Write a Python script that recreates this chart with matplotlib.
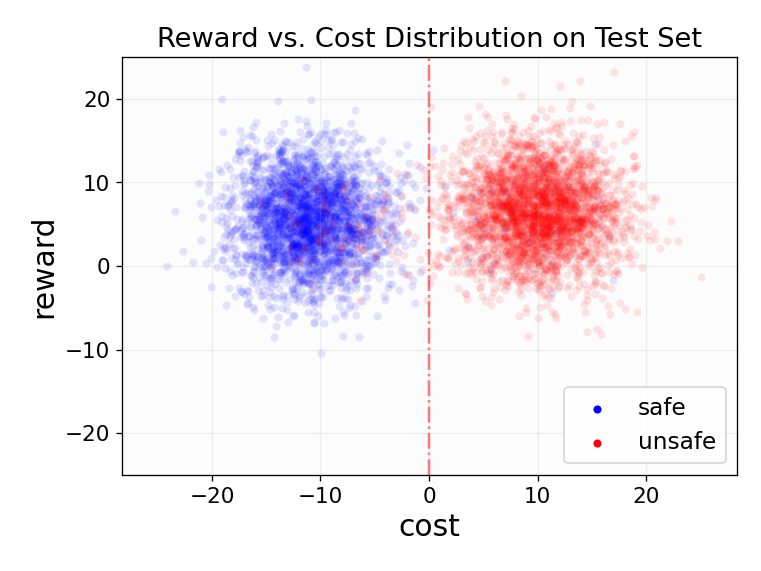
import numpy as np
import matplotlib.pyplot as plt

# cluster summaries (centre, spread, size)
groups = ['safe', 'unsafe']
colors = ['blue', 'red']
cost_mean = [-11.0, 10.0]
cost_std = [3.6, 4.0]
reward_mean = [5.5, 6.5]
reward_std = [4.5, 4.3]
counts = [2700, 2900]

# small stray groups: points of one label sitting in the other's cloud
stray_cost = [9.0, -7.0]
stray_reward = [6.0, 4.0]
stray_std = [4.0, 3.5]
stray_counts = [40, 90]

rng = np.random.default_rng(7)


def main():
    fig = plt.figure(figsize=(6.4, 4.8), dpi=119)
    ax = fig.add_axes([0.160, 0.168, 0.808, 0.732])
    ax.set_facecolor('#fcfcfc')
    for i, (g, c) in enumerate(zip(groups, colors)):
        x = np.concatenate([rng.normal(cost_mean[i], cost_std[i], counts[i]),
                            rng.normal(stray_cost[i], stray_std[i], stray_counts[i])])
        y = np.concatenate([rng.normal(reward_mean[i], reward_std[i], counts[i]),
                            rng.normal(stray_reward[i], stray_std[i], stray_counts[i])])
        ax.scatter(x, y, s=24, c=c, alpha=0.1, linewidths=0, label=g)
    ax.axvline(0, color='red', linestyle='-.', alpha=0.5, linewidth=1.5)
    ax.set_xlim(-28.3, 28.4)
    ax.set_ylim(-25, 25)
    ax.set_xticks([-20, -10, 0, 10, 20])
    ax.set_yticks([-20, -10, 0, 10, 20])
    ax.grid(True, alpha=0.2)
    ax.tick_params(labelsize=13)
    ax.set_xlabel('cost', fontsize=18)
    ax.set_ylabel('reward', fontsize=18)
    ax.set_title('Reward vs. Cost Distribution on Test Set', fontsize=16.5)
    leg = ax.legend(loc='lower right', fontsize=14)
    for h in leg.legend_handles:
        h.set_alpha(1)
    fig.savefig('out.png')


if __name__ == '__main__':
    main()
